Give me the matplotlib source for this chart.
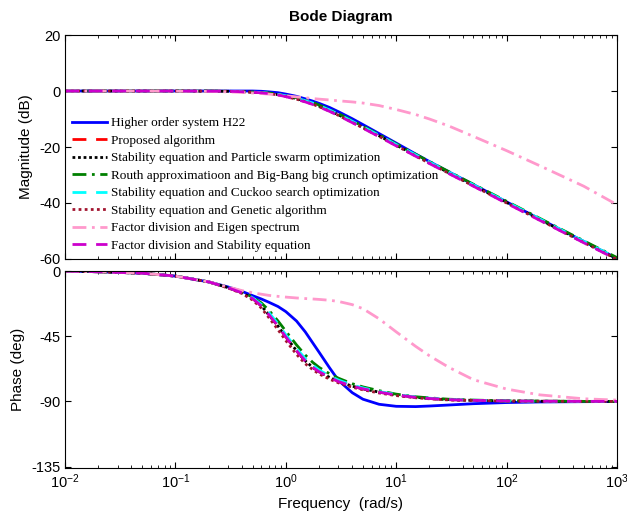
import matplotlib.pyplot as plt

plt.rcParams['font.family'] = ['Liberation Sans', 'DejaVu Sans']
plt.rcParams['mathtext.fontset'] = 'custom'
plt.rcParams['mathtext.rm'] = 'Liberation Sans'
plt.rcParams['mathtext.it'] = 'Liberation Sans:italic'
plt.rcParams['axes.unicode_minus'] = False

# frequency points (rad/s) where values were read
w = [0.01, 0.02, 0.05, 0.1, 0.2, 0.3, 0.4, 0.5, 0.6, 0.7, 0.85, 1.0, 1.25, 1.5, 1.75, 2.0, 2.5,
     3.0, 4.0, 5.0, 7.0, 10.0, 15.0, 20.0, 30.0, 50.0, 100.0, 200.0, 500.0, 1000.0]

# magnitude (dB)
mag_h22 = [0, 0, 0, 0, 0, 0, 0, 0, -0.1, -0.3, -0.6, -1.1, -1.9, -2.8, -3.6, -4.4, -5.9,
           -7.4, -9.9, -12.0, -15.2, -18.6, -22.5, -25.2, -28.9, -33.4, -39.6, -45.7, -53.7, -59.8]
mag_group = [0, 0, 0, 0, -0.05, -0.1, -0.25, -0.4, -0.6, -0.8, -1.3, -1.8, -2.7, -3.6, -4.5, -5.4, -7.0,
             -8.5, -11.0, -13.0, -16.0, -19.3, -23.0, -25.6, -29.2, -33.7, -39.8, -45.9, -53.9, -59.9]
mag_routh = [0, 0, 0, 0, -0.05, -0.1, -0.2, -0.35, -0.5, -0.7, -1.1, -1.6, -2.4, -3.3, -4.1, -5.0, -6.6,
             -8.1, -10.6, -12.6, -15.6, -18.9, -22.6, -25.2, -28.8, -33.3, -39.4, -45.5, -53.5, -59.5]
mag_cuckoo = [0, 0, 0, 0, -0.05, -0.1, -0.22, -0.38, -0.55, -0.75, -1.2, -1.7, -2.55, -3.45, -4.3, -5.2, -6.8,
              -8.3, -10.8, -12.8, -15.8, -19.1, -22.8, -25.4, -29.0, -33.5, -39.6, -45.7, -53.7, -59.7]
mag_genetic = [0, 0, 0, 0, -0.05, -0.1, -0.25, -0.45, -0.65, -0.9, -1.4, -2.0, -2.9, -3.8, -4.7, -5.6, -7.2,
               -8.7, -11.2, -13.2, -16.2, -19.5, -23.2, -25.8, -29.4, -33.9, -40.0, -46.1, -54.1, -60.1]
mag_eigen = [0, 0, 0, -0.05, -0.15, -0.3, -0.5, -0.7, -0.9, -1.1, -1.4, -1.7, -2.1, -2.4, -2.7, -2.9, -3.2,
             -3.5, -3.9, -4.3, -5.2, -6.6, -8.4, -10.0, -12.5, -16.2, -21.3, -26.7, -34.0, -40.6]
mag_stab = [0, 0, 0, 0, -0.05, -0.1, -0.25, -0.45, -0.65, -0.9, -1.4, -2.0, -3.0, -3.9, -4.8, -5.7, -7.3,
            -8.8, -11.3, -13.3, -16.3, -19.6, -23.3, -25.9, -29.5, -34.0, -40.1, -46.2, -54.2, -60.2]

# phase (deg)
ph_h22 = [0, -0.5, -1.5, -3.5, -7.5, -11, -14, -17, -19.3, -21.5, -24.5, -28, -34.5, -42, -49.5, -56, -67,
          -75.5, -84, -88.5, -92, -93.4, -93.6, -93.2, -92.5, -91.6, -90.8, -90.4, -90.2, -90.1]
ph_group = [0, -0.5, -1.5, -3.5, -7.5, -11.5, -15, -19, -24, -30, -38, -45.5, -55, -62, -66.5, -69.5, -73.5,
            -76.3, -79.5, -81.3, -83.6, -85.6, -87.2, -88.0, -88.8, -89.3, -89.7, -89.9, -90.0, -90.0]
ph_routh = [0, -0.5, -1.5, -3.5, -7.5, -11.2, -14.5, -18, -22, -27, -34.5, -41.5, -51, -58, -63, -66.5, -71,
            -74, -77.8, -80, -82.6, -85, -86.8, -87.6, -88.5, -89.1, -89.6, -89.8, -90.0, -90.0]
ph_cuckoo = [0, -0.5, -1.5, -3.5, -7.5, -11.3, -14.7, -18.5, -23, -28.5, -36.5, -44, -53.5, -60.5, -65, -68.3, -72.5,
             -75.3, -78.7, -80.7, -83.2, -85.3, -87, -87.8, -88.7, -89.2, -89.7, -89.9, -90.0, -90.0]
ph_genetic = [0, -0.5, -1.5, -3.5, -7.5, -11.7, -15.5, -20, -25.5, -32, -40.5, -48, -57.5, -64, -68, -71, -74.7,
              -77.2, -80.2, -82, -84.2, -86, -87.5, -88.2, -89, -89.4, -89.8, -89.9, -90.0, -90.0]
ph_eigen = [0, -0.5, -1.5, -3.5, -7.5, -11, -13.5, -15, -16, -16.8, -17.5, -18, -18.6, -19, -19.3, -19.6, -20.2,
            -21, -23.2, -26, -33, -42, -52, -58.5, -66.5, -75, -81.5, -85.5, -88.2, -89.1]

labels = ['Higher order system H22', 'Proposed algorithm',
          'Stability equation and Particle swarm optimization',
          'Routh approximatioon and Big-Bang big crunch optimization',
          'Stability equation and Cuckoo search optimization',
          'Stability equation and Genetic algorithm',
          'Factor division and Eigen spectrum',
          'Factor division and Stability equation']
mags = [mag_h22, mag_group, mag_group, mag_routh, mag_cuckoo, mag_genetic, mag_eigen, mag_stab]
phases = [ph_h22, ph_group, ph_group, ph_routh, ph_cuckoo, ph_genetic, ph_eigen, ph_group]
colors = ['#0000ff', '#ff0000', '#000000', '#008000', '#00ffff', '#a2142f', '#ff99cc', '#cc00cc']
styles = ['-', (0, (5, 3.5)), (0, (1, 1)), (0, (5, 2, 1, 2)), (0, (5, 3.5)), (0, (1, 1.2)),
          (0, (5, 2, 1, 2)), (0, (5, 3.5))]

fig = plt.figure(figsize=(6.27, 5.21), dpi=100)
ax1 = fig.add_axes([0.1037, 0.5029, 0.8803, 0.4299])
ax2 = fig.add_axes([0.1037, 0.1017, 0.8803, 0.3781])

for i in range(8):
    ax1.plot(w, mags[i], color=colors[i], linestyle=styles[i], lw=2, label=labels[i])
    ax2.plot(w, phases[i], color=colors[i], linestyle=styles[i], lw=2)

for ax in (ax1, ax2):
    ax.set_xscale('log')
    ax.set_xlim(1e-2, 1e3)
    ax.tick_params(which='both', direction='in', top=True, right=True, labelsize=10.5)
    ax.tick_params(which='major', length=4)
    ax.tick_params(which='minor', length=2)

ax1.set_ylim(-60, 20)
ax1.set_yticks([-60, -40, -20, 0, 20])
ax1.tick_params(axis='x', labelbottom=False)
ax1.set_ylabel('Magnitude (dB)', fontsize=11)
ax1.set_title('Bode Diagram', fontsize=11, fontweight='bold', pad=10)

ax2.set_ylim(-136, 0)
ax2.set_yticks([-135, -90, -45, 0])
ax2.set_ylabel('Phase (deg)', fontsize=11)
ax2.set_xlabel('Frequency  (rad/s)', fontsize=11)

ax1.legend(loc='lower left', frameon=False, handlelength=2.6, handletextpad=0.3,
           labelspacing=0.4, borderaxespad=0.15,
           prop={'family': 'Liberation Serif', 'size': 9.5})

fig.savefig('out.png', dpi=100)
